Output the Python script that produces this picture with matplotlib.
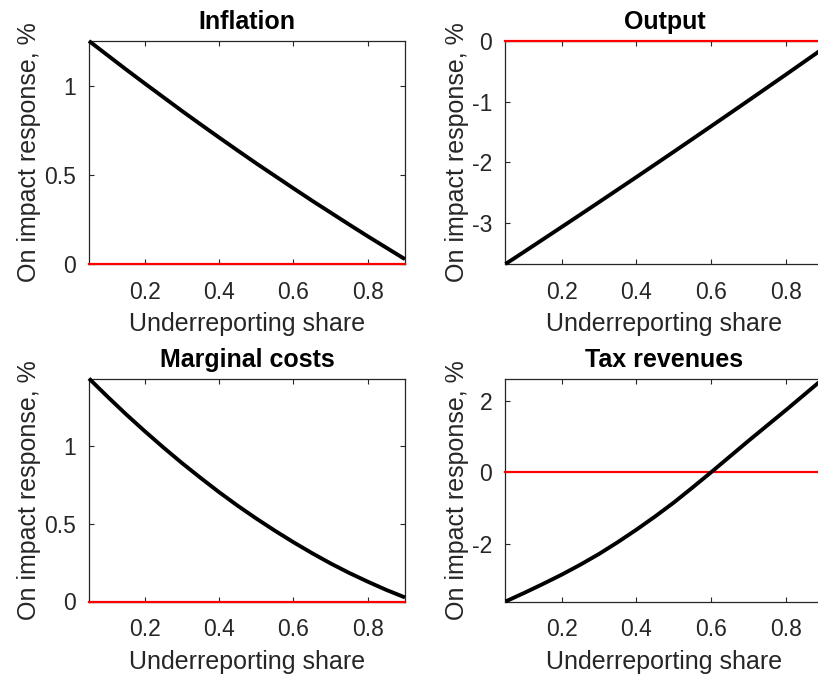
import matplotlib
matplotlib.use("Agg")
import matplotlib.pyplot as plt
import numpy as np
from matplotlib.ticker import FuncFormatter

# Underreporting share grid and on-impact responses (%)
share = [0.05, 0.10, 0.15, 0.20, 0.25, 0.30, 0.35, 0.40, 0.45,
         0.50, 0.55, 0.60, 0.65, 0.70, 0.75, 0.80, 0.85, 0.90]
inflation = [1.250, 1.170, 1.090, 1.012, 0.935, 0.858, 0.783, 0.709, 0.636,
             0.564, 0.494, 0.424, 0.355, 0.288, 0.221, 0.155, 0.091, 0.027]
output = [-3.680, -3.478, -3.274, -3.070, -2.865, -2.659, -2.452, -2.245, -2.036,
          -1.827, -1.616, -1.405, -1.193, -0.980, -0.766, -0.552, -0.336, -0.120]
marginal_costs = [1.430, 1.313, 1.200, 1.092, 0.988, 0.888, 0.793, 0.701, 0.614,
                  0.532, 0.454, 0.380, 0.310, 0.244, 0.183, 0.127, 0.074, 0.026]
tax_revenues = [-3.62, -3.38, -3.13, -2.87, -2.59, -2.29, -1.96, -1.61, -1.24,
                -0.85, -0.43, 0.00, 0.44, 0.88, 1.31, 1.74, 2.18, 2.62]

titles = ["Inflation", "Output", "Marginal costs", "Tax revenues"]
series = [inflation, output, marginal_costs, tax_revenues]
yticks = [[0, 0.5, 1], [-3, -2, -1, 0], [0, 0.5, 1], [-2, 0, 2]]
xticks = [0.2, 0.4, 0.6, 0.8]

plt.rcParams["font.family"] = ["Liberation Sans", "DejaVu Sans"]
plt.rcParams["axes.unicode_minus"] = False

dark = "#262626"
W, H = 818, 675
fig = plt.figure(figsize=(W / 100, H / 100), dpi=100)

# axes boxes in pixels: (left, top, width); right column runs past the figure edge
ax_h = 223
boxes = [(89, 41, 316), (505.5, 41, 318), (89, 378.5, 316), (505.5, 378.5, 318)]

fmt = FuncFormatter(lambda v, pos: f"{v:g}")

for (left, top, ax_w), title, vals, yt in zip(boxes, titles, series, yticks):
    ax = fig.add_axes([left / W, 1 - (top + ax_h) / H, ax_w / W, ax_h / H])
    x = np.array(share)
    y = np.array(vals)
    ax.plot(x, np.zeros_like(x), color="red", lw=1.6, clip_on=False, zorder=3)
    ax.plot(x, y, color="black", lw=2.8, clip_on=False, zorder=4,
            solid_capstyle="butt")
    ax.set_xlim(x.min(), x.max())
    ax.set_ylim(min(y.min(), 0), max(y.max(), 0))
    ax.set_xticks(xticks)
    ax.set_yticks(yt)
    ax.xaxis.set_major_formatter(fmt)
    ax.yaxis.set_major_formatter(fmt)
    ax.tick_params(direction="in", top=True, right=True, length=3.5,
                   width=0.8, colors=dark, labelsize=16.5)
    ax.tick_params(axis="x", pad=12)
    ax.tick_params(axis="y", pad=9.5)
    for sp in ax.spines.values():
        sp.set_linewidth(0.9)
        sp.set_color(dark)
    ax.set_title(title, fontsize=18, fontweight="bold", pad=8.5)
    ax.set_xlabel("Underreporting share", fontsize=18, color=dark, labelpad=6)
    ax.set_ylabel("On impact response, %", fontsize=18, color=dark, labelpad=2)

fig.savefig("out.png", dpi=100)
